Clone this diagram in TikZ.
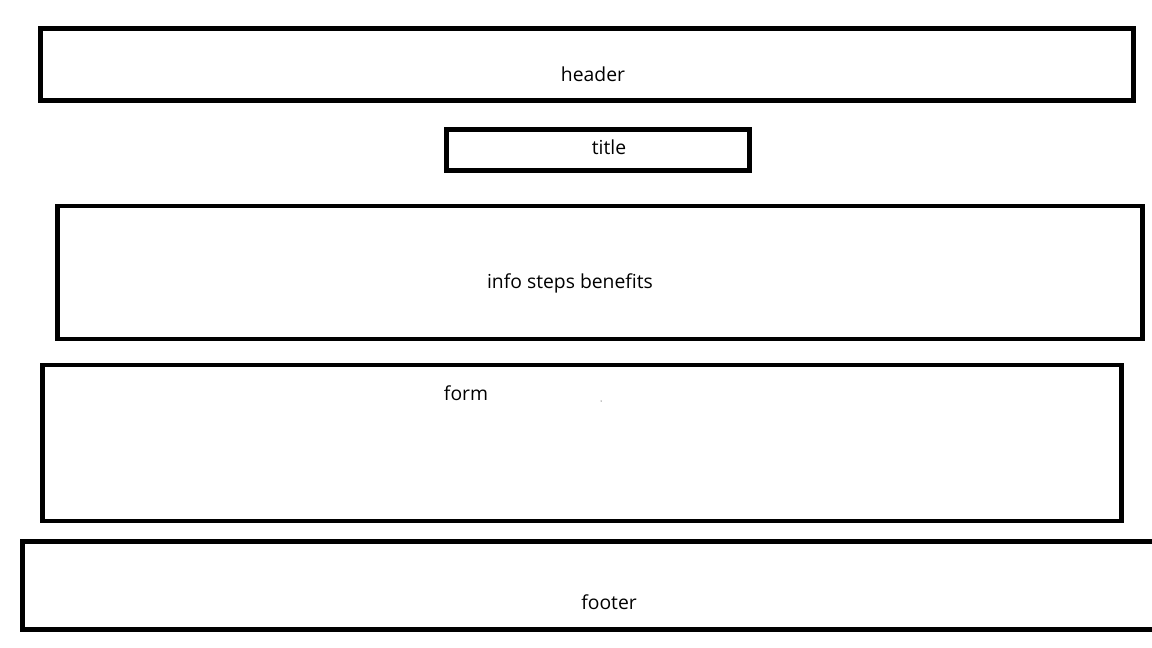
\documentclass[tikz,border=0pt]{standalone}
\usepackage{fontspec}
\setmainfont{Open Sans}
\usepackage{tikz}
\usetikzlibrary{positioning}

\begin{document}
\begin{tikzpicture}[x=0.02cm, y=-0.02cm,
    box/.style={rectangle, draw, line width=2.8pt, inner sep=0pt},
    lbl/.style={inner sep=0pt, font=\fontsize{11}{13}\selectfont}]
      \useasboundingbox (0,0) rectangle (1152,648);
      \clip (0,0) rectangle (1152,648);

      % Riquadri
      \node (header) at (587.15,64.65) [box, minimum width=21.854cm, minimum height=1.446cm] {};
      \node (title) at (598,150) [box, minimum width=6.06cm, minimum height=0.82cm] {};
      \node (info) at (600,272.5) [box, minimum width=21.72cm, minimum height=2.66cm] {};
      \node (form) at (581.75,443) [box, minimum width=21.59cm, minimum height=3.12cm] {};
      \node (footer) at (601.25,585.5) [box, minimum width=23.15cm, minimum height=1.76cm] {};

      % Testi
      \node (headertxt) at (593,74) [lbl] {header};
      \node (titletxt) at (609,147) [lbl] {title};
      \node (infotxt) at (570,283) [lbl] {info steps benefits};
      \node (formtxt) at (466,393) [lbl] {form};
      \node (footertxt) at (609,602) [lbl] {footer};

      \fill (601,401) circle (0.5);
    \end{tikzpicture}
\end{document}
